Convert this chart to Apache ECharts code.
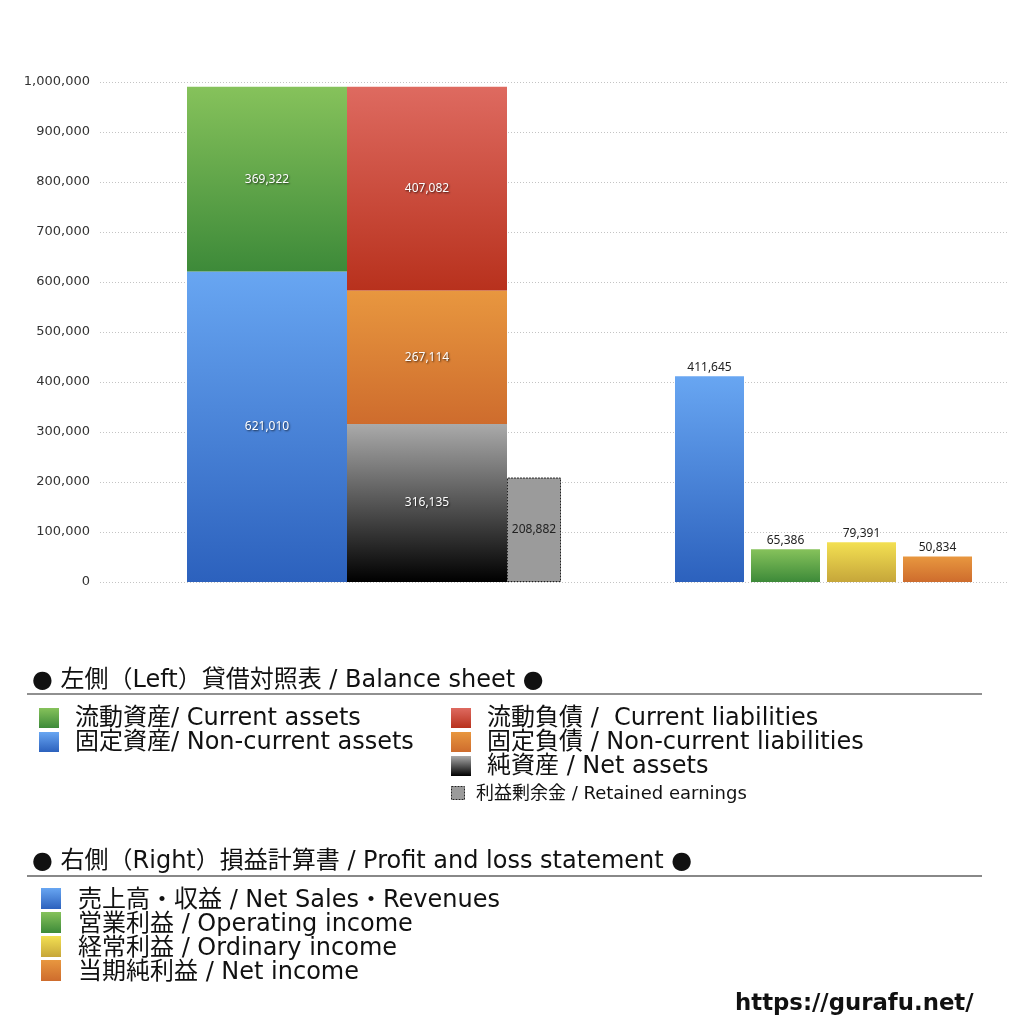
<!DOCTYPE html>
<html>
  <head>
    <meta charset="UTF-8" />
    <title>貸借対照表 / 損益計算書</title>
    <style>
      html,
      body {
        margin: 0;
        padding: 0;
        background: #fff;
      }
      #main {
        width: 1024px;
        height: 1024px;
      }
    </style>
  </head>
  <body>
    <div id="main"></div>
  </body>
  <script src="https://cdn.jsdelivr.net/npm/echarts@6/dist/echarts.min.js"></script>
  <script>
    // 貸借対照表 (left)
    var bsCategory = ["貸借対照表"];
    var nonCurrentAssets = [621010];
    var currentAssets = [369322];
    var netAssets = [316135];
    var nonCurrentLiabilities = [267114];
    var currentLiabilities = [407082];
    var retainedEarnings = [208882];

    // 損益計算書 (right)
    var plCategories = ["売上高・収益", "営業利益", "経常利益", "当期純利益"];
    var plValues = [411645, 65386, 79391, 50834];

    // y軸
    var yMin = 0;
    var yMax = 1000000;
    var yStep = 100000;

    // 凡例テキスト
    var bsTitle = "● 左側（Left）貸借対照表 / Balance sheet ●";
    var bsLegendLeft = ["流動資産/ Current assets", "固定資産/ Non-current assets"];
    var bsLegendRight = ["流動負債 /  Current liabilities", "固定負債 / Non-current liabilities", "純資産 / Net assets"];
    var bsLegendSmall = "利益剰余金 / Retained earnings";
    var plTitle = "● 右側（Right）損益計算書 / Profit and loss statement ●";
    var plLegend = ["売上高・収益 / Net Sales・Revenues", "営業利益 / Operating income", "経常利益 / Ordinary income", "当期純利益 / Net income"];
    var siteUrl = "https://gurafu.net/";

    var FONT = '"DejaVu Sans", "Noto Sans CJK JP", sans-serif';
    var NUM_FONT = '"Noto Sans", sans-serif';

    function grad(top, bottom) {
      return {
        type: "linear",
        x: 0,
        y: 0,
        x2: 0,
        y2: 1,
        colorStops: [
          { offset: 0, color: top },
          { offset: 1, color: bottom },
        ],
      };
    }

    var cBlue = grad("#68a6f2", "#2c61bd");
    var cGreen = grad("#86c25b", "#3d8a39");
    var cRed = grad("#de6a60", "#b8311d");
    var cOrange = grad("#e8973f", "#ce6c2d");
    var cBlack = grad("#aaaaaa", "#000000");
    var cYellow = grad("#f3e052", "#c6a63a");
    var plColors = [cBlue, cGreen, cYellow, cOrange];

    var fmt = function (p) {
      return p.value.toLocaleString("en-US");
    };

    var innerLabel = {
      show: true,
      position: "inside",
      color: "#fff",
      fontSize: 12,
      fontFamily: NUM_FONT,
      textShadowColor: "rgba(0,0,0,0.7)",
      textShadowBlur: 2,
      textShadowOffsetX: 1,
      textShadowOffsetY: 1,
      formatter: fmt,
    };

    function bsBar(name, data, stack, width, color) {
      return {
        name: name,
        type: "bar",
        xAxisIndex: 1,
        yAxisIndex: 1,
        stack: stack,
        barWidth: width,
        barGap: "0%",
        data: data,
        itemStyle: { color: color },
        label: innerLabel,
        silent: true,
      };
    }

    function rect(x, y, w, h, fill, extra) {
      var st = { fill: fill };
      for (var k in extra || {}) st[k] = extra[k];
      return { type: "rect", shape: { x: x, y: y, width: w, height: h }, style: st };
    }
    function text(x, y, str, size, weight) {
      return {
        type: "text",
        x: x,
        y: y,
        style: {
          text: str,
          fontSize: size,
          fontFamily: FONT,
          fontWeight: weight || "normal",
          fill: "#111",
          verticalAlign: "middle",
          textVerticalAlign: "middle",
        },
      };
    }

    var graphics = [];
    // 左側
    graphics.push(text(32, 681, bsTitle, 24));
    graphics.push({ type: "line", shape: { x1: 27, y1: 694, x2: 982, y2: 694 }, style: { stroke: "#222", lineWidth: 1.2 } });
    var leftIcons = [cGreen, cBlue];
    bsLegendLeft.forEach(function (s, i) {
      graphics.push(rect(39, 708 + i * 24, 20, 20, leftIcons[i]));
      graphics.push(text(75, 719 + i * 24, s, 24));
    });
    var rightIcons = [cRed, cOrange, cBlack];
    bsLegendRight.forEach(function (s, i) {
      graphics.push(rect(451, 708 + i * 24, 20, 20, rightIcons[i]));
      graphics.push(text(487, 719 + i * 24, s, 24));
    });
    graphics.push(rect(451.5, 786.5, 13, 13, "#9b9b9b", { stroke: "#222", lineWidth: 1, lineDash: [2, 1] }));
    graphics.push(text(476, 794, bsLegendSmall, 18));
    // 右側
    graphics.push(text(32, 862, plTitle, 24));
    graphics.push({ type: "line", shape: { x1: 27, y1: 876, x2: 982, y2: 876 }, style: { stroke: "#888", lineWidth: 2 } });
    plLegend.forEach(function (s, i) {
      graphics.push(rect(41, 888 + i * 24, 20, 21, plColors[i]));
      graphics.push(text(78, 901 + i * 24, s, 24));
    });
    graphics.push(text(735, 1004, siteUrl, 22.8, "bold"));

    var hiddenCat = function (idx, data) {
      return { type: "category", gridIndex: idx, data: data, show: false };
    };
    var hiddenVal = function (idx) {
      return { type: "value", gridIndex: idx, min: yMin, max: yMax, interval: yStep, show: false };
    };

    var myChart = echarts.init(document.getElementById("main"));
    var option = {
      backgroundColor: "#fff",
      animation: false,
      grid: [
        { left: 100, right: 17, top: 82, bottom: 442 },
        { left: 187, width: 374, top: 82, bottom: 442 },
        { left: 671.5, width: 304, top: 82, bottom: 442 },
      ],
      xAxis: [hiddenCat(0, [""]), hiddenCat(1, bsCategory), hiddenCat(2, plCategories)],
      yAxis: [
        {
          type: "value",
          gridIndex: 0,
          min: yMin,
          max: yMax,
          interval: yStep,
          axisLine: { show: false },
          axisTick: { show: false },
          axisLabel: {
            color: "#333",
            fontSize: 13,
            fontFamily: '"DejaVu Sans", sans-serif',
            margin: 10,
            formatter: function (v) {
              return v.toLocaleString("en-US");
            },
          },
          splitLine: { lineStyle: { color: "#c4c4c4", type: [1, 2], width: 1 } },
        },
        hiddenVal(1),
        hiddenVal(2),
      ],
      graphic: graphics,
      series: [
        bsBar("固定資産", nonCurrentAssets, "assets", 160, cBlue),
        bsBar("流動資産", currentAssets, "assets", 160, cGreen),
        bsBar("純資産", netAssets, "liab", 160, cBlack),
        bsBar("固定負債", nonCurrentLiabilities, "liab", 160, cOrange),
        bsBar("流動負債", currentLiabilities, "liab", 160, cRed),
        {
          name: "利益剰余金",
          type: "bar",
          xAxisIndex: 1,
          yAxisIndex: 1,
          stack: "retained",
          barWidth: 54,
          barGap: "0%",
          data: retainedEarnings,
          itemStyle: { color: "#9b9b9b", borderColor: "#222", borderWidth: 1, borderType: [2, 1] },
          label: {
            show: true,
            position: "inside",
            color: "#222",
            fontSize: 12,
            fontFamily: NUM_FONT,
            formatter: fmt,
          },
          silent: true,
        },
        {
          name: "損益計算書",
          type: "bar",
          xAxisIndex: 2,
          yAxisIndex: 2,
          barWidth: 69,
          data: plValues.map(function (v, i) {
            return { value: v, itemStyle: { color: plColors[i] } };
          }),
          label: {
            show: true,
            position: "top",
            distance: 3,
            color: "#222",
            fontSize: 12,
            fontFamily: NUM_FONT,
            formatter: fmt,
          },
          silent: true,
        },
      ],
    };
    myChart.setOption(option);
  </script>
</html>
